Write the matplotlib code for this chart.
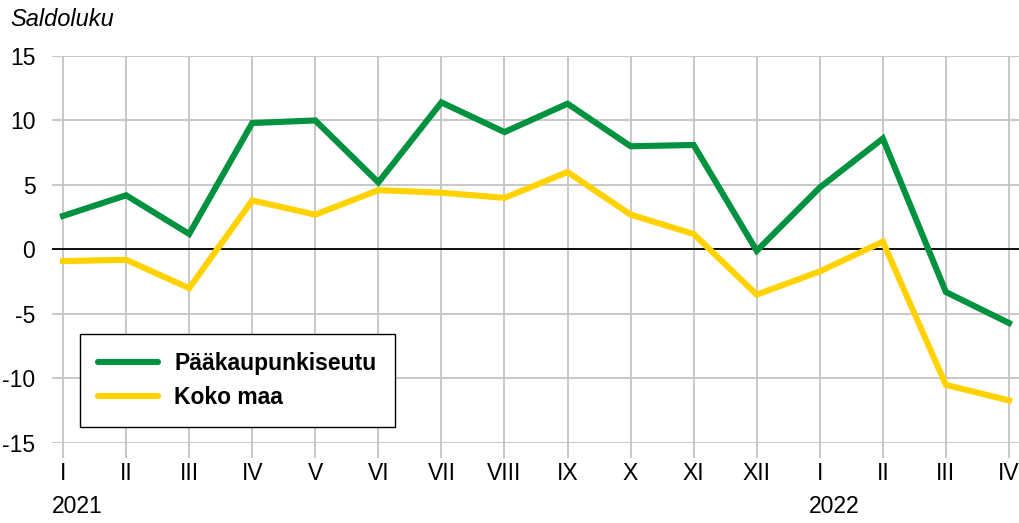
import matplotlib.pyplot as plt
import matplotlib.transforms as mtransforms

plt.rcParams['font.family'] = ['Liberation Sans', 'DejaVu Sans']

months = ["I", "II", "III", "IV", "V", "VI", "VII", "VIII", "IX", "X", "XI", "XII",
          "I", "II", "III", "IV"]
years = ["2021", "2022"]
year_start = [0, 12]

paakaupunkiseutu = [2.6, 4.2, 1.2, 9.8, 10.0, 5.2, 11.4, 9.1, 11.3, 8.0, 8.1, -0.1,
                    4.8, 8.6, -3.3, -5.7]
koko_maa = [-0.9, -0.8, -3.0, 3.8, 2.7, 4.6, 4.4, 4.0, 6.0, 2.7, 1.2, -3.5,
            -1.7, 0.6, -10.5, -11.7]

green = "#00923f"
yellow = "#ffd200"
gridc = "#c4c4c4"

fig = plt.figure(figsize=(10.2, 5.23), dpi=100)
ax = fig.add_axes([0.051, 0.153, 0.949, 0.740])

x = list(range(len(months)))
ax.plot(x, paakaupunkiseutu, color=green, lw=4.4, label="Pääkaupunkiseutu",
        solid_joinstyle='miter', zorder=4)
ax.plot(x, koko_maa, color=yellow, lw=4.4, label="Koko maa",
        solid_joinstyle='miter', zorder=3)
ax.axhline(0, color="black", lw=1.3, zorder=2)

ax.set_xlim(-0.175, 15.175)
ax.set_ylim(-15, 15)
ax.set_yticks([-15, -10, -5, 0, 5, 10, 15])
ax.set_yticklabels(["-15", "-10", "-5", "0", "5", "10", "15"])
ax.set_xticks(x)
ax.set_xticklabels(months)
ax.grid(True, color=gridc, lw=1.3, zorder=0)
ax.set_axisbelow(True)
for s in ax.spines.values():
    s.set_visible(False)
ax.tick_params(axis='y', length=0, pad=12, labelsize=16.5)
ax.tick_params(axis='x', length=11, width=1.3, color=gridc, pad=3, labelsize=16.5)

trans = mtransforms.blended_transform_factory(ax.transData, ax.transAxes)
for yr, st in zip(years, year_start):
    ax.text(st - 0.17, -0.165, yr, transform=trans, ha='left', va='center', fontsize=16.5)

fig.text(0.01, 0.962, "Saldoluku", fontsize=17, style='italic', ha='left', va='center')

leg = ax.legend(loc='lower left', bbox_to_anchor=(0.029, 0.041),
                prop={'weight': 'bold', 'size': 16.5}, fancybox=False, framealpha=1,
                edgecolor='black', borderpad=0.8, handlelength=2.6, labelspacing=0.45,
                handletextpad=0.7, borderaxespad=0)
leg.get_frame().set_linewidth(1.0)
for line in leg.get_lines():
    line.set_solid_capstyle('round')

fig.savefig("out.png", dpi=100)
